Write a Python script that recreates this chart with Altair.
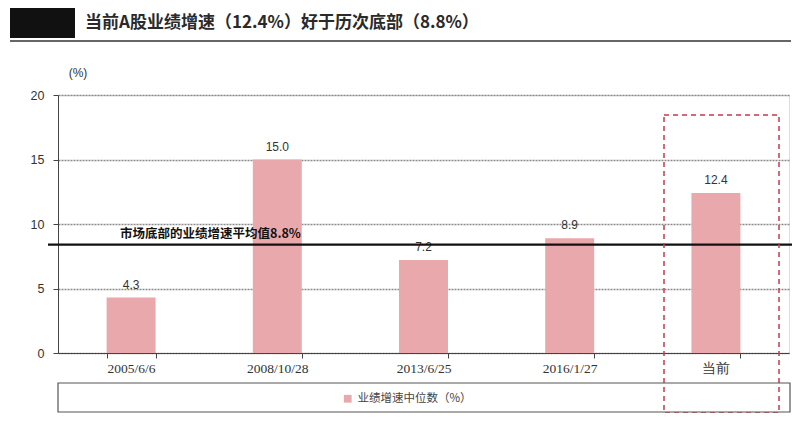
import altair as alt
import pandas as pd

# ---- data ----
categories = ["2005/6/6", "2008/10/28", "2013/6/25", "2016/1/27", "当前"]
values = [4.3, 15.0, 7.2, 8.9, 12.4]
value_labels = ["4.3", "15.0", "7.2", "8.9", "12.4"]
mean_value = [8.4]  # position of the horizontal reference line as drawn
series_name = "业绩增速中位数（%）"
title_text = "当前A股业绩增速（12.4%）好于历次底部（8.8%）"
mean_label = "市场底部的业绩增速平均值8.8%"
y_ticks = [0, 5, 10, 15, 20]
unit_label = "(%)"

PINK = "#E9A8AB"
W, H = 731, 258

df = pd.DataFrame({"date": categories, "value": values,
                   "label": value_labels, "series": series_name})
one = pd.DataFrame({"a": [0]})

x_enc = alt.X("date:N", sort=categories,
              scale=alt.Scale(paddingInner=0.665, paddingOuter=0.3325),
              axis=alt.Axis(title=None, labelAngle=0, tickBand="extent",
                            domainColor="#444", tickColor="#444", tickSize=5,
                            labelFont="Liberation Serif", labelFontSize=13.5,
                            labelColor="#333", labelPadding=3))
y_enc = alt.Y("value:Q",
              scale=alt.Scale(domain=[0, 20], nice=False),
              axis=alt.Axis(values=y_ticks, title=None, grid=True,
                            gridDash=[2, 1], gridColor="#8a8a8a", gridWidth=1.4,
                            domainColor="#444", tickColor="#444", tickSize=5,
                            labelFont="Liberation Sans", labelFontSize=12.5,
                            labelColor="#333", labelPadding=9))

bars = alt.Chart(df).mark_bar().encode(
    x=x_enc, y=y_enc,
    color=alt.Color("series:N", scale=alt.Scale(range=[PINK]),
                    legend=alt.Legend(orient="none", legendX=284, legendY=298,
                                      title=None, symbolType="square",
                                      symbolSize=60, symbolStrokeWidth=0,
                                      labelFont="Noto Sans CJK SC",
                                      labelFontSize=11.5, labelColor="#444"))
)

texts = alt.Chart(df).mark_text(baseline="bottom", dy=-6, font="Liberation Sans",
                                fontSize=12, color="#333").encode(
    x=alt.X("date:N", sort=categories), y="value:Q", text="label:N")

mean_df = pd.DataFrame({"v": mean_value, "t": [mean_label]})
mean_line = alt.Chart(mean_df).mark_rule(color="#111", strokeWidth=2.2, clip=False).encode(
    y="v:Q", x=alt.value(-10), x2=alt.value(737))
mean_text = alt.Chart(mean_df).mark_text(align="left", baseline="bottom", dy=-4,
                                         font="Noto Sans CJK SC", fontWeight="bold",
                                         fontSize=12.5, color="#111").encode(
    y="v:Q", x=alt.value(62), text="t:N")

dashed_box = alt.Chart(one).mark_rect(fill=None, stroke="#C23B4E", strokeDash=[5, 4],
                                      strokeWidth=1.5, clip=False).encode(
    x=alt.value(606), x2=alt.value(721), y=alt.value(20), y2=alt.value(318))

legend_box = alt.Chart(one).mark_rect(fill=None, stroke="#555", strokeWidth=1.2,
                                      clip=False).encode(
    x=alt.value(0), x2=alt.value(732), y=alt.value(288), y2=alt.value(317))

title_df = pd.DataFrame({"t": [title_text]})
title = alt.Chart(title_df).mark_text(align="left", baseline="middle",
                                      font="Noto Sans CJK SC", fontWeight="bold",
                                      fontSize=17, color="#2a2a2a").encode(
    x=alt.value(27), y=alt.value(-72), text="t:N")

black_box = alt.Chart(one).mark_rect(fill="#111", clip=False).encode(
    x=alt.value(-48), x2=alt.value(17), y=alt.value(-90), y2=alt.value(-57))

underline = alt.Chart(one).mark_rule(color="#666", strokeWidth=2, clip=False).encode(
    x=alt.value(-48), x2=alt.value(733), y=alt.value(-54))

unit_df = pd.DataFrame({"t": [unit_label]})
unit = alt.Chart(unit_df).mark_text(font="Liberation Sans", fontSize=12,
                                    color="#333").encode(
    x=alt.value(20), y=alt.value(-22), text="t:N")

chart = alt.layer(
    bars, texts, mean_line, mean_text, dashed_box, legend_box,
    title, black_box, underline, unit
).properties(
    width=W, height=H,
    padding={"left": 50, "top": 87, "right": 3, "bottom": 60},
    autosize=alt.AutoSizeParams(type="none"),
).configure_view(stroke=None).configure(background="white")

chart.save("out.html", embed_options={"renderer": "svg", "actions": False})
